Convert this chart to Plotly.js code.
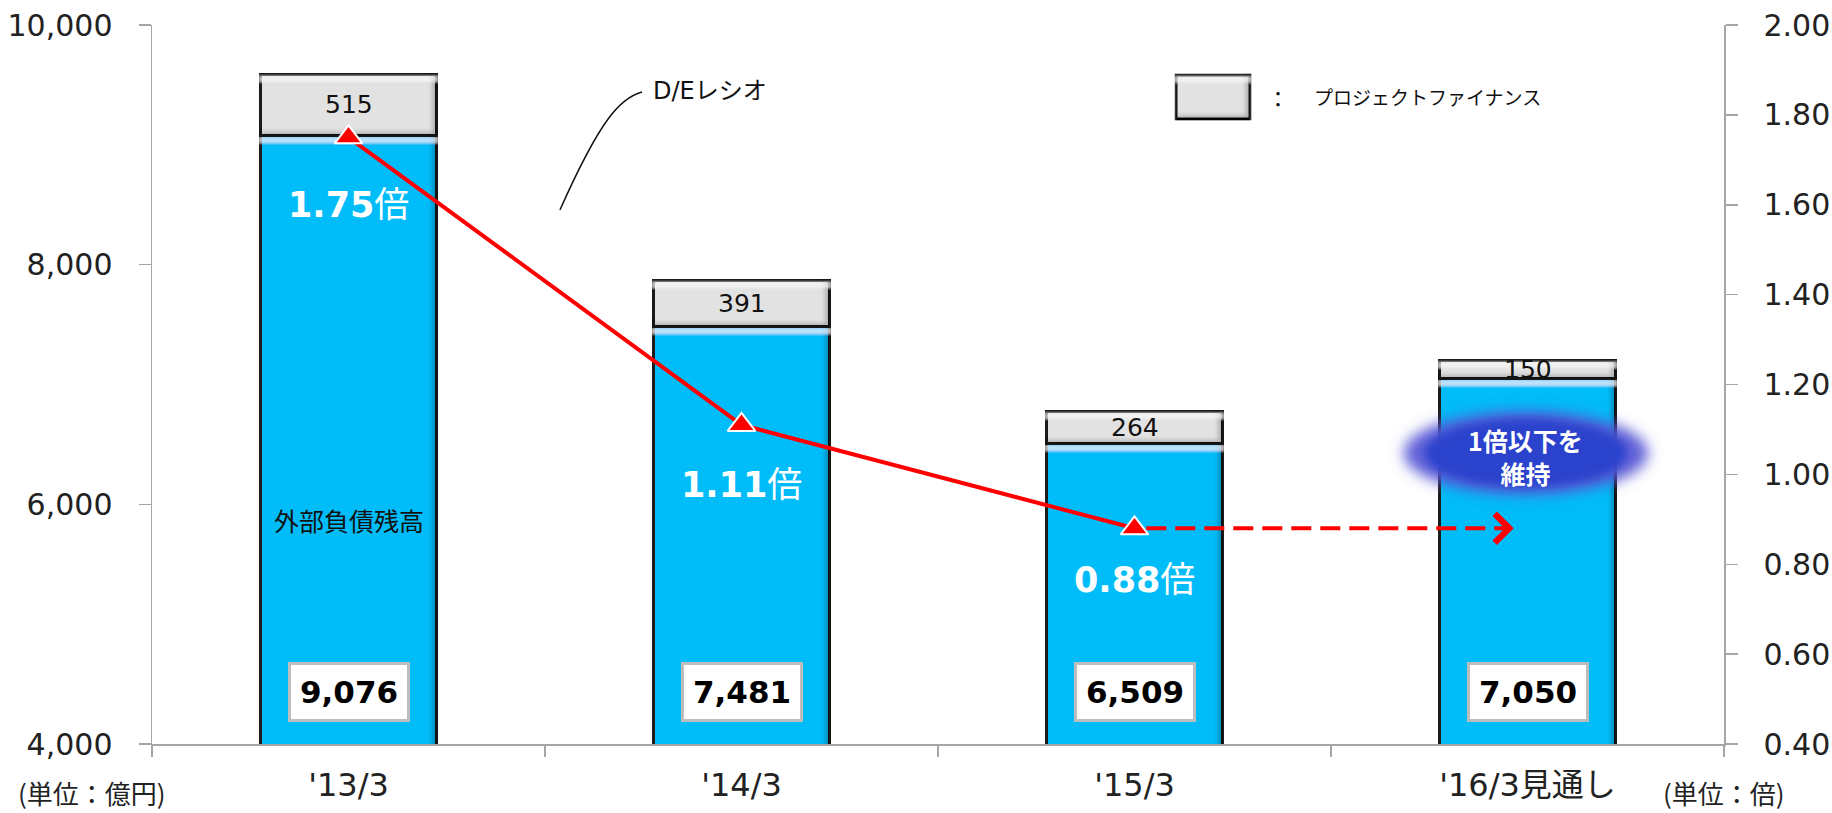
<!DOCTYPE html>
<html>
<head>
<meta charset="utf-8">
<script src="https://cdn.plot.ly/plotly-3.0.1.min.js"></script>
<style>
  html, body { margin: 0; padding: 0; background: #ffffff; }
  #chart { width: 1832px; height: 813px; }
</style>
</head>
<body>
<div id="chart"></div>
<script>
// ---- data ----
const categories = ["'13/3", "'14/3", "'15/3", "'16/3見通し"];
const externalDebt = [9076, 7481, 6509, 7050];
const projectFinance = [515, 391, 264, 150];
const deRatioCats = ["'13/3", "'14/3", "'15/3"];
const deRatio = [1.75, 1.11, 0.88];
const deRatioLabels = ["1.75", "1.11", "0.88"];
const deForecast = 0.88;
const leftTickVals = [4000, 6000, 8000, 10000];
const rightTickVals = [0.40, 0.60, 0.80, 1.00, 1.20, 1.40, 1.60, 1.80, 2.00];

// ---- styling ----
const LAT = 'DejaVu Sans, Noto Sans CJK JP, sans-serif';
const JP = 'Noto Sans CJK JP, DejaVu Sans, sans-serif';
const BLUE = '#03BCF8';
const GRAY = '#E2E2E2';
const EDGE = '#1e1e1e';
const AXIS = '#a6a6a6';
const ratioLabelShift = [-68, -60, -52];

const traces = [
  {
    type: 'bar', x: categories, y: externalDebt, name: '外部負債残高',
    marker: { color: BLUE, line: { color: EDGE, width: 3 } },
    width: 0.45, hoverinfo: 'skip'
  },
  {
    type: 'bar', x: categories, y: projectFinance, name: 'プロジェクトファイナンス',
    marker: { color: GRAY, line: { color: EDGE, width: 3 } },
    width: 0.45, hoverinfo: 'skip'
  },
  {
    type: 'scatter', mode: 'lines+markers', x: deRatioCats, y: deRatio, yaxis: 'y2',
    name: 'D/Eレシオ', line: { color: '#ff0000', width: 4 },
    marker: { symbol: 'triangle-up', size: 24, color: '#ff0000', line: { color: '#ffffff', width: 2 } },
    hoverinfo: 'skip'
  }
];

const annotations = [];
categories.forEach((c, i) => {
  annotations.push({
    x: c, y: externalDebt[i] + projectFinance[i] / 2, xref: 'x', yref: 'y',
    text: String(projectFinance[i]), showarrow: false,
    font: { family: LAT, size: 25, color: '#111' }
  });
  annotations.push({
    x: c, y: leftTickVals[0], xref: 'x', yref: 'y', yanchor: 'bottom', yshift: 22,
    text: '<b>' + externalDebt[i].toLocaleString('en-US') + '</b>', showarrow: false,
    font: { family: LAT, size: 31, color: '#000' },
    bgcolor: '#ffffff', bordercolor: '#bdbdbd', borderwidth: 3, borderpad: 9
  });
});
deRatioCats.forEach((c, i) => {
  annotations.push({
    x: c, y: deRatio[i], xref: 'x', yref: 'y2', yshift: ratioLabelShift[i],
    text: '<b>' + deRatioLabels[i] + '</b>倍', showarrow: false,
    font: { family: LAT, size: 35, color: '#ffffff' }
  });
});
annotations.push({
  x: categories.length - 1 - 0.035, y: deForecast, xref: 'x', yref: 'y2',
  ax: -14, ay: 0, axref: 'pixel', ayref: 'pixel', text: '', showarrow: true,
  arrowhead: 4, arrowsize: 1.4, arrowwidth: 4, arrowcolor: '#ff0000'
});
annotations.push(
  { x: categories[0], y: 0.3115, xref: 'x', yref: 'paper', yanchor: 'middle', text: '外部負債残高', showarrow: false,
    font: { family: JP, size: 25, color: '#111' } },
  { x: 0.3174, y: 0.9082, xref: 'paper', yref: 'paper', xanchor: 'left', yanchor: 'middle', text: 'D/Eレシオ', showarrow: false,
    font: { family: LAT, size: 24, color: '#111' } },
  { x: 0.7160, y: 0.8999, xref: 'paper', yref: 'paper', xanchor: 'center', yanchor: 'middle', text: '：', showarrow: false,
    font: { family: JP, size: 22, color: '#111' } },
  { x: 0.7379, y: 0.8999, xref: 'paper', yref: 'paper', xanchor: 'left', yanchor: 'middle', text: 'プロジェクトファイナンス', showarrow: false,
    font: { family: JP, size: 19, color: '#111' } },
  { x: 0.8740, y: 0.4, xref: 'paper', yref: 'paper', xanchor: 'center', yanchor: 'middle', text: '<b>1倍以下を</b><br><b>維持</b>', showarrow: false,
    font: { family: JP, size: 25, color: '#ffffff' } },
  { x: -0.0382, y: -0.0668, xref: 'paper', yref: 'paper', xanchor: 'center', yanchor: 'middle', text: '(単位：億円)', showarrow: false,
    font: { family: JP, size: 26, color: '#222' } },
  { x: 1.0, y: -0.0668, xref: 'paper', yref: 'paper', xanchor: 'center', yanchor: 'middle', text: '(単位：倍)', showarrow: false,
    font: { family: JP, size: 26, color: '#222' } }
);

const shapes = [];
const cx = 0.8740, cy = 0.4047, rx = 0.0802, ry = 0.0598;
const glow = [
  [0.97, 'rgba(88,88,214,0.95)'],
  [0.80, '#2b43cc']
];
glow.forEach(([s, col]) => {
  shapes.push({ type: 'circle', xref: 'paper', yref: 'paper', layer: 'above',
    x0: cx - rx * s, x1: cx + rx * s, y0: cy - ry * s, y1: cy + ry * s,
    fillcolor: col, line: { width: 0 } });
});
shapes.push({ type: 'line', xref: 'x', yref: 'y2', layer: 'above',
  x0: categories.length - 2 + 0.03, x1: categories.length - 1 - 0.05, y0: deForecast, y1: deForecast,
  line: { color: '#ff0000', width: 4, dash: '20px,9px' } });
shapes.push({ type: 'rect', xref: 'paper', yref: 'paper', layer: 'above',
  x0: 0.6514, x1: 0.6985, y0: 0.8693, y1: 0.9305,
  fillcolor: GRAY, line: { color: '#111', width: 3 } });
shapes.push({ type: 'path', xref: 'paper', yref: 'paper', layer: 'above',
  path: 'M0.3117,0.9068 C0.2977,0.8985 0.2850,0.8679 0.2595,0.7427',
  line: { color: '#111', width: 1.5 } });

const layout = {
  width: 1832, height: 813,
  margin: { l: 152, r: 108, t: 25, b: 69 },
  paper_bgcolor: '#ffffff', plot_bgcolor: '#ffffff',
  barmode: 'stack', bargap: 0.55, showlegend: false,
  xaxis: {
    type: 'category', showline: true, linecolor: AXIS, linewidth: 1.5,
    ticks: 'outside', tickson: 'boundaries', ticklen: 11, tickcolor: AXIS, tickwidth: 1.5,
    tickfont: { family: LAT, size: 32, color: '#222' }, ticklabelstandoff: 12,
    showgrid: false, zeroline: false, fixedrange: true
  },
  yaxis: {
    range: [4000, 10000], tickvals: leftTickVals, tickformat: ',d',
    showline: true, linecolor: AXIS, linewidth: 1.5,
    ticks: 'outside', ticklen: 12, tickcolor: AXIS, tickwidth: 1.5,
    tickfont: { family: LAT, size: 30, color: '#222' }, ticklabelstandoff: 20,
    showgrid: false, zeroline: false, fixedrange: true
  },
  yaxis2: {
    range: [0.4, 2.0], tickvals: rightTickVals, tickformat: '.2f',
    overlaying: 'y', side: 'right',
    showline: true, linecolor: AXIS, linewidth: 1.5,
    ticks: 'outside', ticklen: 12, tickcolor: AXIS, tickwidth: 1.5,
    tickfont: { family: LAT, size: 30, color: '#222' }, ticklabelstandoff: 20,
    showgrid: false, zeroline: false, fixedrange: true
  },
  annotations: annotations,
  shapes: shapes
};

Plotly.newPlot('chart', traces, layout, { staticPlot: true, displayModeBar: false }).then(gd => {
  const svg = gd.querySelector('svg.main-svg');
  const ns = 'http://www.w3.org/2000/svg';
  let defs = svg.querySelector('defs');
  if (!defs) { defs = document.createElementNS(ns, 'defs'); svg.insertBefore(defs, svg.firstChild); }
  const el = (tag, attrs, parent) => {
    const e = document.createElementNS(ns, tag);
    Object.keys(attrs).forEach(k => e.setAttribute(k, attrs[k]));
    if (parent) parent.appendChild(e);
    return e;
  };
  [['glowOuter', 7], ['glowInner', 4]].forEach(([id, sd]) => {
    const f = el('filter', { id: id, x: '-30%', y: '-60%', width: '160%', height: '220%' }, defs);
    el('feGaussianBlur', { stdDeviation: sd }, f);
  });
  // bevel filter: dark band on right/bottom, light band just inside the top stroke
  const bv = el('filter', { id: 'bevel', x: '-5%', y: '-5%', width: '110%', height: '110%' }, defs);
  el('feOffset', { in: 'SourceAlpha', dx: '-6', dy: '-5', result: 'o1' }, bv);
  el('feComposite', { in: 'SourceAlpha', in2: 'o1', operator: 'out', result: 'e1' }, bv);
  el('feGaussianBlur', { in: 'e1', stdDeviation: '2', result: 'e1b' }, bv);
  el('feFlood', { 'flood-color': '#000000', 'flood-opacity': '0.45', result: 'f1' }, bv);
  el('feComposite', { in: 'f1', in2: 'e1b', operator: 'in', result: 'shadow' }, bv);
  el('feOffset', { in: 'SourceAlpha', dx: '0', dy: '3', result: 'o2a' }, bv);
  el('feOffset', { in: 'SourceAlpha', dx: '0', dy: '9', result: 'o2b' }, bv);
  el('feComposite', { in: 'o2a', in2: 'o2b', operator: 'out', result: 'e2' }, bv);
  el('feGaussianBlur', { in: 'e2', stdDeviation: '1.2', result: 'e2b' }, bv);
  el('feFlood', { 'flood-color': '#ffffff', 'flood-opacity': '0.5', result: 'f2' }, bv);
  el('feComposite', { in: 'f2', in2: 'e2b', operator: 'in', result: 'light' }, bv);
  const m = el('feMerge', { result: 'merged' }, bv);
  el('feMergeNode', { in: 'SourceGraphic' }, m);
  el('feMergeNode', { in: 'shadow' }, m);
  el('feMergeNode', { in: 'light' }, m);
  el('feComposite', { in: 'merged', in2: 'SourceAlpha', operator: 'in' }, bv);

  gd.querySelectorAll('.shapelayer path').forEach(p => {
    const idx = p.getAttribute('data-index');
    if (idx === '0') p.setAttribute('filter', 'url(#glowOuter)');
    if (idx === '1') p.setAttribute('filter', 'url(#glowInner)');
    if (idx === '3') p.setAttribute('filter', 'url(#bevel)');
  });
  gd.querySelectorAll('.barlayer .point path').forEach(p => p.setAttribute('filter', 'url(#bevel)'));
});
</script>
</body>
</html>
